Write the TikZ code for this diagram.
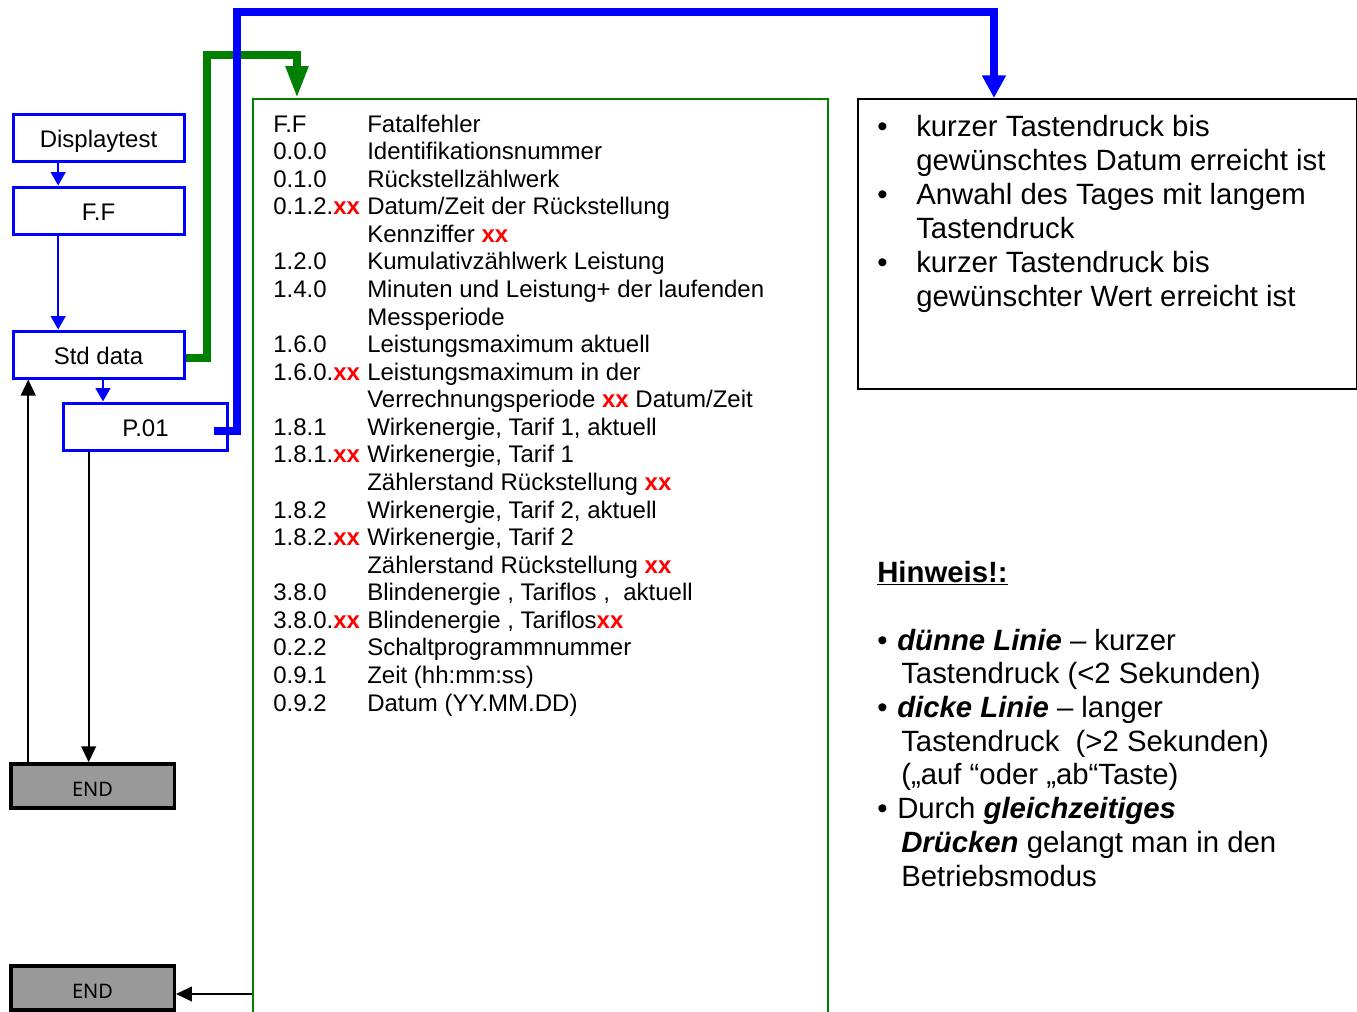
\documentclass[tikz,border=0pt]{standalone}
\usepackage{fontspec}
\setmainfont{Liberation Sans}
\newfontfamily\endfont{Noto Sans}
\usetikzlibrary{arrows.meta}
\definecolor{dkgreen}{RGB}{0,128,0}
\definecolor{endgray}{RGB}{153,153,153}
\newcommand{\redxx}{\textcolor{red}{\textbf{xx}}}

\tikzset{
  bluebox/.style={draw=blue, line width=2.25pt, minimum width=128.25pt, minimum height=35.25pt, inner sep=0pt, text height=15pt, text depth=0pt, font=\fontsize{18}{21}\selectfont},
  endbox/.style={draw=black, fill=endgray, line width=2.6pt, minimum width=122.6pt, minimum height=33pt, inner sep=0pt, text height=15pt, text depth=0pt, font=\endfont\fontsize{15}{17}\selectfont},
  listbox/.style={draw=dkgreen, line width=1.25pt, anchor=north west, minimum width=431.25pt, minimum height=686.25pt, inner sep=0pt},
  hintbox/.style={draw=black, line width=1.5pt, anchor=north west, minimum width=374.25pt, minimum height=217.5pt, inner sep=0pt},
  listrow/.style={anchor=base west, inner sep=0pt, font=\fontsize{18}{20.7}\selectfont},
  notetext/.style={anchor=north west, align=left, inner sep=0pt, font=\fontsize{22}{25.5}\selectfont},
  shortpress/.style={draw=blue, line width=1.5pt, -{Triangle[length=10pt,width=11pt]}},
  backarrow/.style={draw=black, line width=1.5pt, -{Triangle[length=12pt,width=11pt]}},
  greenpress/.style={draw=dkgreen, line width=5.5pt, -{Triangle[length=24pt,width=16pt]}},
  bluepress/.style={draw=blue, line width=5.5pt, -{Triangle[length=17pt,width=17pt]}},
}

\begin{document}
\begin{tikzpicture}[x=0.75pt, y=-0.75pt]
  \useasboundingbox (0,0) rectangle (1357,1011);

  % Menu boxes
  \node[bluebox] (disp) at (98.5,137.5) {Displaytest};
  \node[bluebox] (ff) at (98.5,210.5) {F.F};
  \node[bluebox] (std) at (98.5,354.5) {Std data};
  \node[bluebox, minimum width=122.8pt] (p01) at (145.5,426.5) {P.01};
  \node[endbox] (end1) at (92.5,786) {END};
  \node[endbox] (end2) at (92.5,988) {END};

  % Frames
  \node[listbox] (liste) at (252,98) {};
  \node[hintbox] (hint) at (857,98) {};

  % Short press
  \draw[shortpress] ([xshift=35pt]disp.south west) -- ([xshift=35pt]ff.north west);
  \draw[shortpress] ([xshift=35pt]ff.south west) -- ([xshift=35pt]std.north west);
  \coordinate (stddown) at ([xshift=68.6pt]std.south west);
  \draw[shortpress] (stddown) -- (stddown |- p01.north);

  % Back to start / end
  \coordinate (p01down) at ([xshift=19.9pt]p01.south west);
  \draw[backarrow] (p01down) -- (p01down |- end1.north);
  \coordinate (end1up) at ([xshift=14.4pt]end1.north west);
  \draw[backarrow] (end1up) -- (end1up |- std.south);
  \coordinate (end2in) at ([yshift=-4.5pt]end2.east);
  \draw[backarrow] (liste.west |- end2in) -- (end2in);

  % Long press
  \coordinate (stdout) at ([yshift=-2.6pt]std.east);
  \draw[greenpress] (stdout) -| (207,55) -| ([xshift=33.75pt]liste.north west);
  \coordinate (p01out) at ([xshift=-11pt,yshift=-3.4pt]p01.east);
  \draw[bluepress] (p01out) -| (237,12) -| ([xshift=102.75pt]hint.north west);

  % List of values
  \node[listrow] (r1) at (273,132) {\makebox[70.5pt][l]{F.F}Fatalfehler};
  \node[listrow] (r2) at (273,159.6) {\makebox[70.5pt][l]{0.0.0}Identifikationsnummer};
  \node[listrow] (r3) at (273,187.1) {\makebox[70.5pt][l]{0.1.0}Rückstellzählwerk};
  \node[listrow] (r4) at (273,214.7) {\makebox[70.5pt][l]{0.1.2.\redxx}Datum/Zeit der Rückstellung};
  \node[listrow] (r5) at (273,242.3) {\makebox[70.5pt][l]{}Kennziffer \redxx};
  \node[listrow] (r6) at (273,269.9) {\makebox[70.5pt][l]{1.2.0}Kumulativzählwerk Leistung};
  \node[listrow] (r7) at (273,297.4) {\makebox[70.5pt][l]{1.4.0}Minuten und Leistung+ der laufenden};
  \node[listrow] (r8) at (273,325) {\makebox[70.5pt][l]{}Messperiode};
  \node[listrow] (r9) at (273,352.6) {\makebox[70.5pt][l]{1.6.0}Leistungsmaximum aktuell};
  \node[listrow] (r10) at (273,380.1) {\makebox[70.5pt][l]{1.6.0.\redxx}Leistungsmaximum in der};
  \node[listrow] (r11) at (273,407.7) {\makebox[70.5pt][l]{}Verrechnungsperiode \redxx{} Datum/Zeit};
  \node[listrow] (r12) at (273,435.3) {\makebox[70.5pt][l]{1.8.1}Wirkenergie, Tarif 1, aktuell};
  \node[listrow] (r13) at (273,462.8) {\makebox[70.5pt][l]{1.8.1.\redxx}Wirkenergie, Tarif 1};
  \node[listrow] (r14) at (273,490.4) {\makebox[70.5pt][l]{}Zählerstand Rückstellung \redxx};
  \node[listrow] (r15) at (273,518) {\makebox[70.5pt][l]{1.8.2}Wirkenergie, Tarif 2, aktuell};
  \node[listrow] (r16) at (273,545.6) {\makebox[70.5pt][l]{1.8.2.\redxx}Wirkenergie, Tarif 2};
  \node[listrow] (r17) at (273,573.1) {\makebox[70.5pt][l]{}Zählerstand Rückstellung \redxx};
  \node[listrow] (r18) at (273,600.7) {\makebox[70.5pt][l]{3.8.0}Blindenergie , Tariflos ,\ \ aktuell};
  \node[listrow] (r19) at (273,628.3) {\makebox[70.5pt][l]{3.8.0.\redxx}Blindenergie , Tariflos\redxx};
  \node[listrow] (r20) at (273,655.8) {\makebox[70.5pt][l]{0.2.2}Schaltprogrammnummer};
  \node[listrow] (r21) at (273,683.4) {\makebox[70.5pt][l]{0.9.1}Zeit (hh:mm:ss)};
  \node[listrow] (r22) at (273,711) {\makebox[70.5pt][l]{0.9.2}Datum (YY.MM.DD)};

  % Notes
  \node[notetext] (hinttext) at (877,115) {%
    \makebox[29.25pt][l]{\textbullet}kurzer Tastendruck bis\\
    \hspace*{29.25pt}gewünschtes Datum erreicht ist\\
    \makebox[29.25pt][l]{\textbullet}Anwahl des Tages mit langem\\
    \hspace*{29.25pt}Tastendruck\\
    \makebox[29.25pt][l]{\textbullet}kurzer Tastendruck bis\\
    \hspace*{29.25pt}gewünschter Wert erreicht ist};
  \node[notetext, font=\fontsize{22}{25.3}\selectfont] (hinweis) at (877,561) {%
    \underline{\textbf{Hinweis!:}}\\[25.3pt]
    \makebox[15pt][l]{\textbullet}\textbf{\textit{dünne Linie}} -- kurzer\\
    \hspace*{18pt}Tastendruck (<2 Sekunden)\\
    \makebox[15pt][l]{\textbullet}\textbf{\textit{dicke Linie}} -- langer\\
    \hspace*{18pt}Tastendruck\ \ (>2 Sekunden)\\
    \hspace*{18pt}(„auf “oder „ab“Taste)\\
    \makebox[15pt][l]{\textbullet}Durch \textbf{\textit{gleichzeitiges}}\\
    \hspace*{18pt}\textbf{\textit{Drücken}} gelangt man in den\\
    \hspace*{18pt}Betriebsmodus};
\end{tikzpicture}
\end{document}
